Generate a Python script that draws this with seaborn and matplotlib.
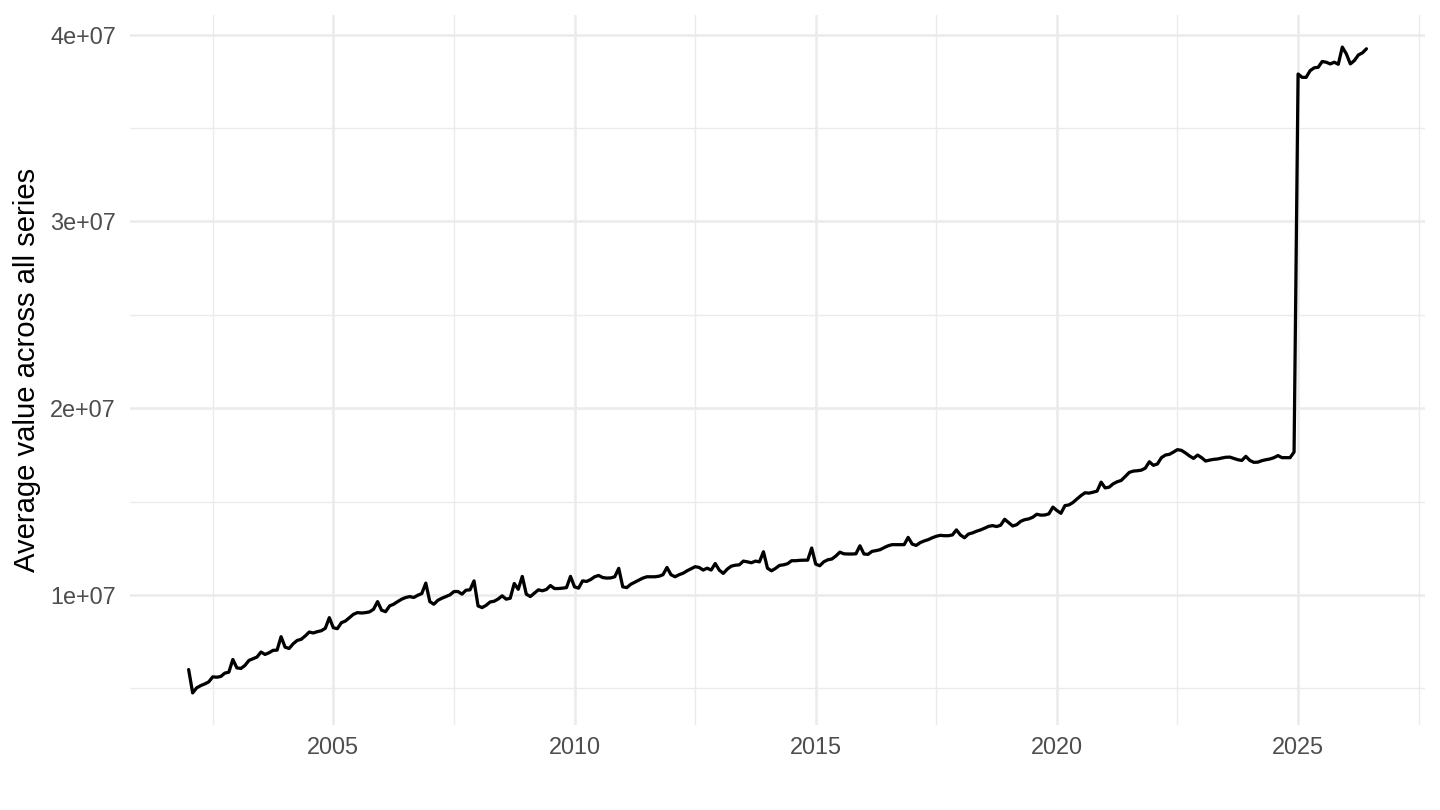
import numpy as np
import pandas as pd
import matplotlib
matplotlib.use("Agg")
import matplotlib.pyplot as plt
import seaborn as sns
from matplotlib.ticker import FuncFormatter

# monthly averages, in millions, Jan..Dec
v2002 = [6.00, 4.75, 5.02, 5.14, 5.23, 5.34, 5.61, 5.59, 5.63, 5.81, 5.86, 6.54]
v2003 = [6.09, 6.06, 6.22, 6.49, 6.58, 6.67, 6.94, 6.81, 6.90, 7.03, 7.04, 7.76]
v2004 = [7.20, 7.13, 7.38, 7.56, 7.62, 7.80, 8.01, 7.96, 8.03, 8.08, 8.21, 8.78]
v2005 = [8.24, 8.19, 8.51, 8.60, 8.78, 8.96, 9.05, 9.03, 9.05, 9.09, 9.23, 9.64]
v2006 = [9.18, 9.10, 9.41, 9.50, 9.64, 9.77, 9.86, 9.91, 9.86, 9.98, 10.07, 10.63]
v2007 = [9.64, 9.50, 9.71, 9.82, 9.91, 10.00, 10.18, 10.18, 10.04, 10.25, 10.27, 10.75]
v2008 = [9.41, 9.32, 9.44, 9.62, 9.66, 9.78, 9.95, 9.77, 9.82, 10.61, 10.30, 10.99]
v2009 = [10.04, 9.91, 10.09, 10.27, 10.22, 10.29, 10.50, 10.34, 10.34, 10.36, 10.39, 10.99]
v2010 = [10.43, 10.36, 10.75, 10.72, 10.82, 10.97, 11.04, 10.93, 10.90, 10.91, 10.97, 11.42]
v2011 = [10.43, 10.39, 10.57, 10.68, 10.79, 10.90, 10.97, 10.97, 10.97, 11.00, 11.08, 11.47]
v2012 = [11.08, 10.97, 11.08, 11.16, 11.29, 11.40, 11.51, 11.47, 11.33, 11.43, 11.33, 11.68]
v2013 = [11.33, 11.15, 11.38, 11.54, 11.59, 11.61, 11.81, 11.77, 11.72, 11.81, 11.77, 12.31]
v2014 = [11.43, 11.29, 11.42, 11.58, 11.61, 11.67, 11.83, 11.83, 11.85, 11.86, 11.86, 12.51]
v2015 = [11.65, 11.56, 11.77, 11.88, 11.92, 12.08, 12.29, 12.20, 12.19, 12.19, 12.20, 12.63]
v2016 = [12.19, 12.17, 12.33, 12.37, 12.42, 12.53, 12.63, 12.69, 12.69, 12.69, 12.69, 13.08]
v2017 = [12.72, 12.65, 12.80, 12.89, 12.96, 13.06, 13.14, 13.19, 13.17, 13.17, 13.21, 13.48]
v2018 = [13.21, 13.06, 13.26, 13.32, 13.41, 13.48, 13.57, 13.67, 13.71, 13.66, 13.73, 14.05]
v2019 = [13.87, 13.69, 13.76, 13.94, 14.03, 14.07, 14.16, 14.32, 14.27, 14.28, 14.34, 14.70]
v2020 = [14.52, 14.37, 14.78, 14.82, 14.95, 15.14, 15.32, 15.47, 15.45, 15.50, 15.56, 16.04]
v2021 = [15.73, 15.77, 15.95, 16.06, 16.13, 16.34, 16.56, 16.63, 16.65, 16.68, 16.79, 17.13]
v2022 = [16.94, 17.01, 17.35, 17.49, 17.53, 17.65, 17.78, 17.74, 17.60, 17.44, 17.31, 17.49]
v2023 = [17.35, 17.17, 17.22, 17.26, 17.28, 17.33, 17.37, 17.38, 17.31, 17.24, 17.20, 17.42]
v2024 = [17.20, 17.10, 17.11, 17.19, 17.24, 17.28, 17.35, 17.46, 17.35, 17.35, 17.35, 17.65]
v2025 = [37.90, 37.72, 37.72, 38.08, 38.23, 38.26, 38.57, 38.53, 38.44, 38.53, 38.42, 39.34]
v2026 = [38.98, 38.44, 38.62, 38.92, 39.03, 39.25]

years = list(range(2002, 2027))
by_year = [v2002, v2003, v2004, v2005, v2006, v2007, v2008, v2009, v2010,
           v2011, v2012, v2013, v2014, v2015, v2016, v2017, v2018, v2019,
           v2020, v2021, v2022, v2023, v2024, v2025, v2026]

rows = []
for yr, vals in zip(years, by_year):
    for m, v in enumerate(vals):
        rows.append({"t": yr + m / 12, "value": v * 1e6})
df = pd.DataFrame(rows)

sns.set_theme(style="white")
plt.rcParams['font.family'] = ['Liberation Sans', 'DejaVu Sans']

fig, ax = plt.subplots(figsize=(8, 4.5), dpi=180)
fig.subplots_adjust(left=0.0901, right=0.9898, top=0.9817, bottom=0.1047)

sns.lineplot(data=df, x="t", y="value", color="black", linewidth=1.3, ax=ax)
ax.margins(x=0.05, y=0.05)

ax.set_xticks([2005, 2010, 2015, 2020, 2025])
ax.set_xticks([2002.5, 2007.5, 2012.5, 2017.5, 2022.5, 2027.5], minor=True)
ax.set_yticks([1e7, 2e7, 3e7, 4e7])
ax.set_yticks([5e6, 1.5e7, 2.5e7, 3.5e7], minor=True)
ax.yaxis.set_major_formatter(FuncFormatter(lambda v, p: f"{v:.0e}"))

ax.grid(which="major", color="#EBEBEB", linewidth=1.0)
ax.grid(which="minor", color="#EBEBEB", linewidth=0.55)
ax.set_axisbelow(True)
for s in ax.spines.values():
    s.set_visible(False)

ax.tick_params(axis="both", which="both", length=0, labelsize=9.4, labelcolor="#4D4D4D")
ax.tick_params(axis="x", pad=4.2)
ax.tick_params(axis="y", pad=5.5)

ax.set_xlabel("")
ax.set_ylabel("Average value across all series", fontsize=11.7, color="black")
ax.yaxis.set_label_coords(-0.0685, 0.5)

fig.savefig("out.png", dpi=180, facecolor="white")
